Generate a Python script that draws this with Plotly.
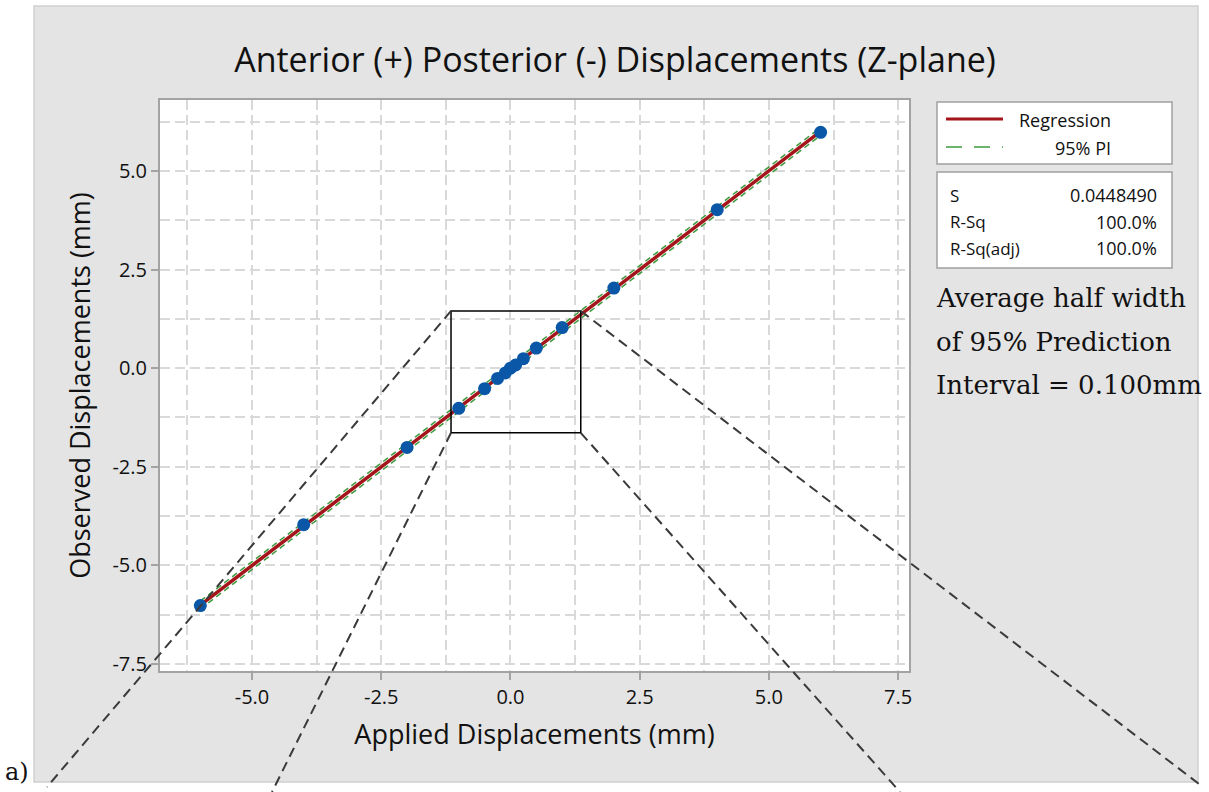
import numpy as np
import plotly.graph_objects as go

# ---------------- data ----------------
applied = [-6.0, -4.0, -2.0, -1.0, -0.5, -0.25, -0.1, 0.0, 0.1, 0.25, 0.5, 1.0, 2.0, 4.0, 6.0]
observed = [-6.02, -3.97, -2.01, -1.02, -0.52, -0.26, -0.12, 0.0, 0.08, 0.24, 0.51, 1.03, 2.03, 4.02, 5.98]
pi_half_width = 0.100
x_ticks = [-5.0, -2.5, 0.0, 2.5, 5.0, 7.5]
y_ticks = [-7.5, -5.0, -2.5, 0.0, 2.5, 5.0]
stats_labels = ["S", "R-Sq", "R-Sq(adj)"]
stats_values = ["0.0448490", "100.0%", "100.0%"]
zoom_x = [-1.15, 1.36]
zoom_y = [-1.64, 1.45]

# regression fit
slope, intercept = np.polyfit(applied, observed, 1)
fit_x = np.array([min(applied), max(applied)])
fit_y = slope * fit_x + intercept

# ---------------- geometry ----------------
W, H = 1209, 792
L, R, T, B = 160, 300, 100, 121
PW, PH = W - L - R, H - T - B
x_range = [-6.78, 7.71]
y_range = [-7.68, 6.80]


def px(x):  # pixel -> paper x
    return (x - L) / PW


def py(y):  # pixel -> paper y
    return (H - B - y) / PH


def dx(v):  # data -> paper x
    return (v - x_range[0]) / (x_range[1] - x_range[0])


def dy(v):  # data -> paper y
    return (v - y_range[0]) / (y_range[1] - y_range[0])


RED = "#a3151b"
GREEN = "#3d9b3d"
BLUE = "#0a57a8"
TXT = "#111111"
SANS = "Open Sans, Noto Sans, sans-serif"
SERIF = "DejaVu Serif, serif"

fig = go.Figure()

# PI lines
for sgn in (1, -1):
    fig.add_trace(go.Scatter(x=fit_x, y=fit_y + sgn * pi_half_width, mode="lines",
                             line=dict(color=GREEN, width=1.5, dash="6px,4px"),
                             showlegend=False, hoverinfo="skip"))
# regression
fig.add_trace(go.Scatter(x=fit_x, y=fit_y, mode="lines",
                         line=dict(color=RED, width=3.5), showlegend=False))
# points
fig.add_trace(go.Scatter(x=applied, y=observed, mode="markers",
                         marker=dict(color=BLUE, size=13, symbol="circle"),
                         showlegend=False))

shapes = []
# gray panel and white plot area (paper, below)
shapes.append(dict(type="rect", xref="paper", yref="paper", layer="below",
                   x0=px(34), x1=px(1198), y0=py(782), y1=py(6),
                   fillcolor="#e4e4e4", line=dict(color="#cfcfcf", width=1.5)))
shapes.append(dict(type="rect", xref="paper", yref="paper", layer="below",
                   x0=0, x1=1, y0=0, y1=1, fillcolor="white", line=dict(width=0)))

# zoom rectangle
zx0, zx1, zy0, zy1 = dx(zoom_x[0]), dx(zoom_x[1]), dy(zoom_y[0]), dy(zoom_y[1])
shapes.append(dict(type="rect", xref="paper", yref="paper",
                   x0=zx0, x1=zx1, y0=zy0, y1=zy1,
                   line=dict(color="black", width=1.5)))
# connector dashed lines
conn = [((zx0, zy1), (px(47), py(787))),
        ((zx0, zy0), (px(272), py(792))),
        ((zx1, zy1), (px(1203), py(787))),
        ((zx1, zy0), (px(900), py(792)))]
for (a, b) in conn:
    shapes.append(dict(type="line", xref="paper", yref="paper",
                       x0=a[0], y0=a[1], x1=b[0], y1=b[1],
                       line=dict(color="#3a3a3a", width=2, dash="10px,6px")))

# legend box
shapes.append(dict(type="rect", xref="paper", yref="paper",
                   x0=px(937), x1=px(1172), y0=py(164), y1=py(102),
                   fillcolor="white", line=dict(color="#a0a0a0", width=1.5)))
shapes.append(dict(type="line", xref="paper", yref="paper",
                   x0=px(946), x1=px(1003), y0=py(119), y1=py(119),
                   line=dict(color=RED, width=3)))
shapes.append(dict(type="line", xref="paper", yref="paper",
                   x0=px(946), x1=px(1003), y0=py(147), y1=py(147),
                   line=dict(color=GREEN, width=1.5, dash="16px,12px")))
# stats box
shapes.append(dict(type="rect", xref="paper", yref="paper",
                   x0=px(937), x1=px(1172), y0=py(268), y1=py(172),
                   fillcolor="white", line=dict(color="#a0a0a0", width=1.5)))

annotations = []
annotations.append(dict(text="Regression", xref="paper", yref="paper", x=px(1113), y=py(120),
                        xanchor="right", yanchor="middle", showarrow=False,
                        font=dict(family=SANS, size=18, color=TXT)))
annotations.append(dict(text="95% PI", xref="paper", yref="paper", x=px(1113), y=py(148),
                        xanchor="right", yanchor="middle", showarrow=False,
                        font=dict(family=SANS, size=18, color=TXT)))
for i, (lab, val) in enumerate(zip(stats_labels, stats_values)):
    yy = py(195 + i * 26.5)
    annotations.append(dict(text=lab, xref="paper", yref="paper", x=px(948), y=yy,
                            xanchor="left", yanchor="middle", showarrow=False,
                            font=dict(family=SANS, size=17, color=TXT)))
    annotations.append(dict(text=val, xref="paper", yref="paper", x=px(1159), y=yy,
                            xanchor="right", yanchor="middle", showarrow=False,
                            font=dict(family=SANS, size=18, color=TXT)))

note_lines = ["Average half width", "of 95% Prediction", "Interval = 0.100mm"]
for i, t in enumerate(note_lines):
    annotations.append(dict(text=t, xref="paper", yref="paper", x=px(934), y=py(298 + i * 43.5),
                            xanchor="left", yanchor="middle", showarrow=False,
                            font=dict(family=SERIF, size=26, color=TXT)))
annotations.append(dict(text="a)", xref="paper", yref="paper", x=px(3), y=py(772),
                        xanchor="left", yanchor="middle", showarrow=False,
                        font=dict(family=SERIF, size=24, color=TXT)))

axis_common = dict(showline=True, mirror=True, linecolor="#a3a3a3", linewidth=2,
                   ticks="outside", ticklen=7, tickcolor="#a3a3a3", tickwidth=1.5,
                   showgrid=True, gridcolor="#d9d9d9", griddash="10px,5px", gridwidth=1.5,
                   zeroline=False,
                   tickfont=dict(family=SANS, size=20, color=TXT),
                   minor=dict(dtick=1.25, tick0=0, showgrid=True, gridcolor="#d9d9d9",
                              griddash="10px,5px", gridwidth=1.5, ticks=""))

fig.update_layout(
    width=W, height=H,
    margin=dict(l=L, r=R, t=T, b=B),
    paper_bgcolor="white", plot_bgcolor="white",
    title=dict(text="Anterior (+) Posterior (-) Displacements (Z-plane)",
               xref="container", yref="container", x=615 / W, y=1 - 60 / H,
               xanchor="center", yanchor="middle",
               font=dict(family=SANS, size=34, color=TXT)),
    xaxis=dict(range=x_range, tickvals=x_ticks, ticktext=[f"{v:.1f}" for v in x_ticks],
               title=dict(text="Applied Displacements (mm)", standoff=16,
                          font=dict(family=SANS, size=27, color=TXT)),
               **axis_common),
    yaxis=dict(range=y_range, tickvals=y_ticks, ticktext=[f"{v:.1f}" for v in y_ticks],
               title=dict(text="Observed Displacements (mm)", standoff=14,
                          font=dict(family=SANS, size=27, color=TXT)),
               **axis_common),
    shapes=shapes,
    annotations=annotations,
)

fig.write_html("out.html", config={"displayModeBar": False},
               post_script="document.body.style.margin='0';")
